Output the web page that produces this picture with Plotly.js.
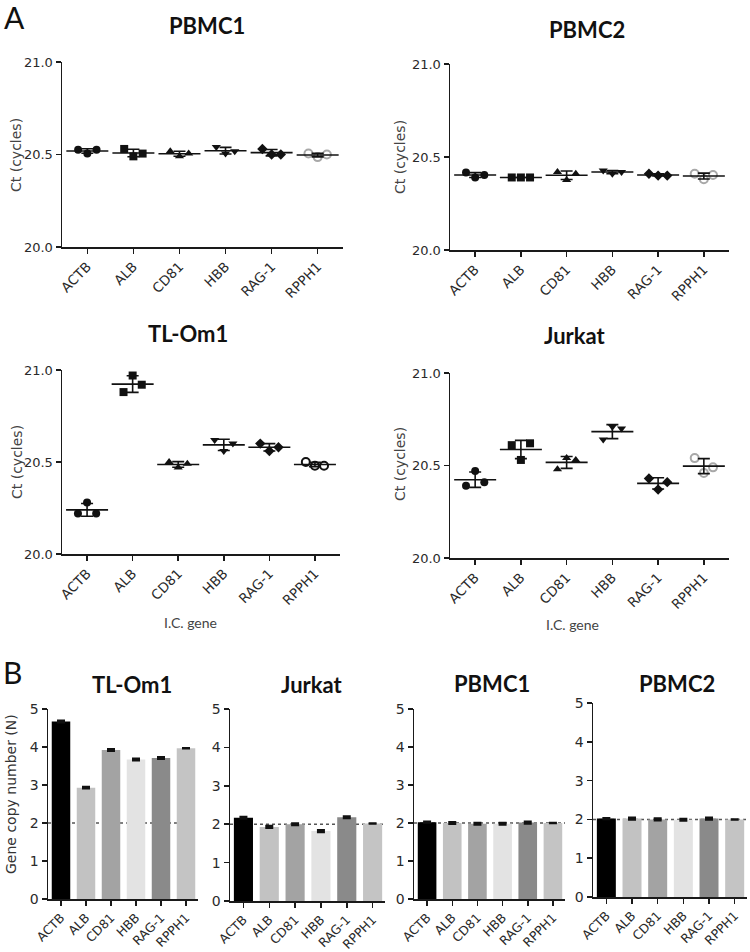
<!DOCTYPE html>
<html><head><meta charset="utf-8">
<script src="https://cdn.plot.ly/plotly-3.0.1.min.js"></script>
<style>html,body{margin:0;padding:0;background:#fff}#chart{width:750px;height:952px}</style>
</head><body><div id="chart"></div>
<script>
// ---------- DATA ----------
const genes = ['ACTB', 'ALB', 'CD81', 'HBB', 'RAG-1', 'RPPH1'];

// Panel A: Ct replicates per gene (left, middle, right as plotted)
const ctPBMC1 = [[20.526, 20.505, 20.526], [20.53, 20.49, 20.505], [20.517, 20.49, 20.505],
                 [20.54, 20.505, 20.517], [20.53, 20.50, 20.50], [20.505, 20.486, 20.50]];
const ctPBMC2 = [[20.416, 20.39, 20.403], [20.39, 20.39, 20.39], [20.42, 20.376, 20.41],
                 [20.427, 20.41, 20.42], [20.41, 20.40, 20.40], [20.41, 20.38, 20.403]];
const ctTLOm1 = [[20.22, 20.28, 20.22], [20.88, 20.97, 20.92], [20.50, 20.47, 20.49],
                 [20.62, 20.56, 20.60], [20.60, 20.56, 20.58], [20.50, 20.48, 20.48]];
const ctJurkat = [[20.39, 20.47, 20.41], [20.61, 20.53, 20.62], [20.48, 20.54, 20.53],
                  [20.64, 20.71, 20.70], [20.43, 20.37, 20.41], [20.54, 20.46, 20.49]];

// Panel B: gene copy number (N) and error
const cnTLOm1 = [4.67, 2.93, 3.92, 3.67, 3.71, 3.97];
const cnTLOm1Err = [0.02, 0.015, 0.02, 0.02, 0.02, 0];
const cnJurkat = [2.17, 1.93, 2.00, 1.82, 2.18, 2.02];
const cnJurkatErr = [0.02, 0.02, 0.02, 0.02, 0.02, 0];
const cnPBMC1 = [2.02, 2.00, 1.98, 1.98, 2.01, 2.00];
const cnPBMC1Err = [0.01, 0.02, 0.02, 0.02, 0.02, 0];
const cnPBMC2 = [2.02, 2.02, 2.00, 1.99, 2.02, 2.00];
const cnPBMC2Err = [0.01, 0.02, 0.02, 0.02, 0.02, 0];
const refCopyNumber = 2;

const ctTicks = [20.0, 20.5, 21.0];
const cnTicks = [0, 1, 2, 3, 4, 5];

// ---------- STYLE ----------
const W = 750, H = 952;
const xd = (a, b) => [a / W, b / W];
const yd = (t, b) => [1 - b / H, 1 - t / H];
const symbols = ['circle', 'square', 'triangle-up', 'triangle-down', 'diamond', 'circle-open'];
const barColors = ['#000000', '#c2c2c2', '#a3a3a3', '#e3e3e3', '#8a8a8a', '#c4c4c4'];
const jitter = [-0.2, 0, 0.2];
const SANS = 'DejaVu Sans';
const tickFont = {family: SANS, size: 13, color: '#2a2a2a'};
const titleFont = {family: 'Lato', size: 22, color: '#111', weight: 'bold'};

const panelsA = [
  {title: 'PBMC1', data: ctPBMC1, ax: 1, x: [62, 343], y: [62, 247], tx: 207, ty: 25, yt: [16, 155], open: '#a8a8a8'},
  {title: 'PBMC2', data: ctPBMC2, ax: 2, x: [450, 729], y: [64, 250], tx: 587, ty: 29, yt: [400, 157], open: '#a8a8a8'},
  {title: 'TL-Om1', data: ctTLOm1, ax: 3, x: [62, 340], y: [370, 554], tx: 188, ty: 333, yt: [17, 462], open: '#111', xt: [190, 622]},
  {title: 'Jurkat', data: ctJurkat, ax: 4, x: [450, 729], y: [373, 558], tx: 575, ty: 335, yt: [400, 464], open: '#a8a8a8', xt: [572, 624]}
];
const panelsB = [
  {title: 'TL-Om1', data: cnTLOm1, err: cnTLOm1Err, ax: 5, x: [48, 198], y: [709, 899], tx: 132, ty: 684},
  {title: 'Jurkat', data: cnJurkat, err: cnJurkatErr, ax: 6, x: [230, 385], y: [709, 901], tx: 312, ty: 684},
  {title: 'PBMC1', data: cnPBMC1, err: cnPBMC1Err, ax: 7, x: [414, 565], y: [709, 899], tx: 492, ty: 683},
  {title: 'PBMC2', data: cnPBMC2, err: cnPBMC2Err, ax: 8, x: [593, 747], y: [703, 897], tx: 677, ty: 683}
];

const mean = a => a.reduce((s, v) => s + v, 0) / a.length;
const sd = a => { const m = mean(a); return Math.sqrt(a.reduce((s, v) => s + (v - m) ** 2, 0) / (a.length - 1)); };

const traces = [];
const layout = {
  width: W, height: H, margin: {l: 0, r: 0, t: 0, b: 0},
  paper_bgcolor: '#fff', plot_bgcolor: 'rgba(0,0,0,0)', showlegend: false,
  annotations: [], shapes: []
};

function axisBase() {
  return {showline: true, linecolor: '#1a1a1a', linewidth: 1.5, ticks: 'outside', ticklen: 5,
          tickwidth: 1.5, tickcolor: '#1a1a1a', showgrid: false, zeroline: false, tickfont: tickFont,
          fixedrange: true};
}
function ann(text, x, y, font, extra) {
  layout.annotations.push(Object.assign({text, x: x / W, y: 1 - y / H, xref: 'paper', yref: 'paper',
    showarrow: false, font, xanchor: 'center', yanchor: 'middle'}, extra || {}));
}

panelsA.forEach(p => {
  const xa = 'x' + p.ax, ya = 'y' + p.ax;
  const xk = 'xaxis' + p.ax, yk = 'yaxis' + p.ax;
  layout[xk] = Object.assign(axisBase(), {domain: xd(p.x[0], p.x[1]), anchor: ya, range: [-0.55, 5.55],
    tickvals: genes.map((g, i) => i), ticktext: genes, tickangle: -45, tickfont: Object.assign({}, tickFont, {size: 13.5})});
  layout[yk] = Object.assign(axisBase(), {domain: yd(p.y[0], p.y[1]), anchor: xa, range: [20, 21],
    tickvals: ctTicks, tickformat: '.1f'});
  p.data.forEach((reps, i) => {
    const open = symbols[i] === 'circle-open';
    traces.push({type: 'scatter', mode: 'markers', xaxis: xa, yaxis: ya, cliponaxis: false,
      x: jitter.map(j => i + j), y: reps,
      marker: {symbol: symbols[i], size: 8, color: open ? p.open : '#111',
               line: {color: open ? p.open : '#111', width: open ? 2 : 0}}});
  });
  traces.push({type: 'scatter', mode: 'markers', xaxis: xa, yaxis: ya, cliponaxis: false,
    x: genes.map((g, i) => i), y: p.data.map(mean),
    marker: {symbol: 'line-ew', size: 30, color: '#111', line: {color: '#111', width: 1.6}},
    error_y: {type: 'data', array: p.data.map(sd), visible: true, color: '#111', thickness: 1.6, width: 6}});
  ann('<b>' + p.title + '</b>', p.tx, p.ty, titleFont);
  ann('Ct (cycles)', p.yt[0], p.yt[1], {family: SANS, size: 14, color: '#444'}, {textangle: -90});
  if (p.xt) ann('I.C. gene', p.xt[0], p.xt[1], {family: 'Lato', size: 14, color: '#444'});
});

panelsB.forEach(p => {
  const xa = 'x' + p.ax, ya = 'y' + p.ax;
  const xk = 'xaxis' + p.ax, yk = 'yaxis' + p.ax;
  layout[xk] = Object.assign(axisBase(), {domain: xd(p.x[0], p.x[1]), anchor: ya, range: [-0.52, 5.48],
    tickvals: genes.map((g, i) => i), ticktext: genes, tickangle: -45, tickfont: Object.assign({}, tickFont, {size: 12.5})});
  layout[yk] = Object.assign(axisBase(), {domain: yd(p.y[0], p.y[1]), anchor: xa, range: [0, 5],
    tickvals: cnTicks, tickfont: Object.assign({}, tickFont, {size: 14})});
  traces.push({type: 'bar', xaxis: xa, yaxis: ya, x: genes.map((g, i) => i), y: p.data, width: 0.74,
    marker: {color: barColors, line: {width: 0}},
    error_y: {type: 'data', array: p.err, visible: true, color: '#111', thickness: 2.5, width: 4}});
  layout.shapes.push({type: 'line', xref: xa + ' domain', yref: ya, x0: 0, x1: 1, y0: refCopyNumber, y1: refCopyNumber,
    line: {color: '#555', width: 1.5, dash: 'dot'}, layer: 'below'});
  ann('<b>' + p.title + '</b>', p.tx, p.ty, titleFont);
});
ann('Gene copy number (N)', 11, 794, {family: SANS, size: 14, color: '#333'}, {textangle: -90});
ann('A', 14, 17, {family: 'Lato', size: 30, color: '#111'});
ann('B', 12, 672, {family: 'Lato', size: 30, color: '#111'});

Plotly.newPlot('chart', traces, layout, {displayModeBar: false, staticPlot: true});
</script>
</body></html>
